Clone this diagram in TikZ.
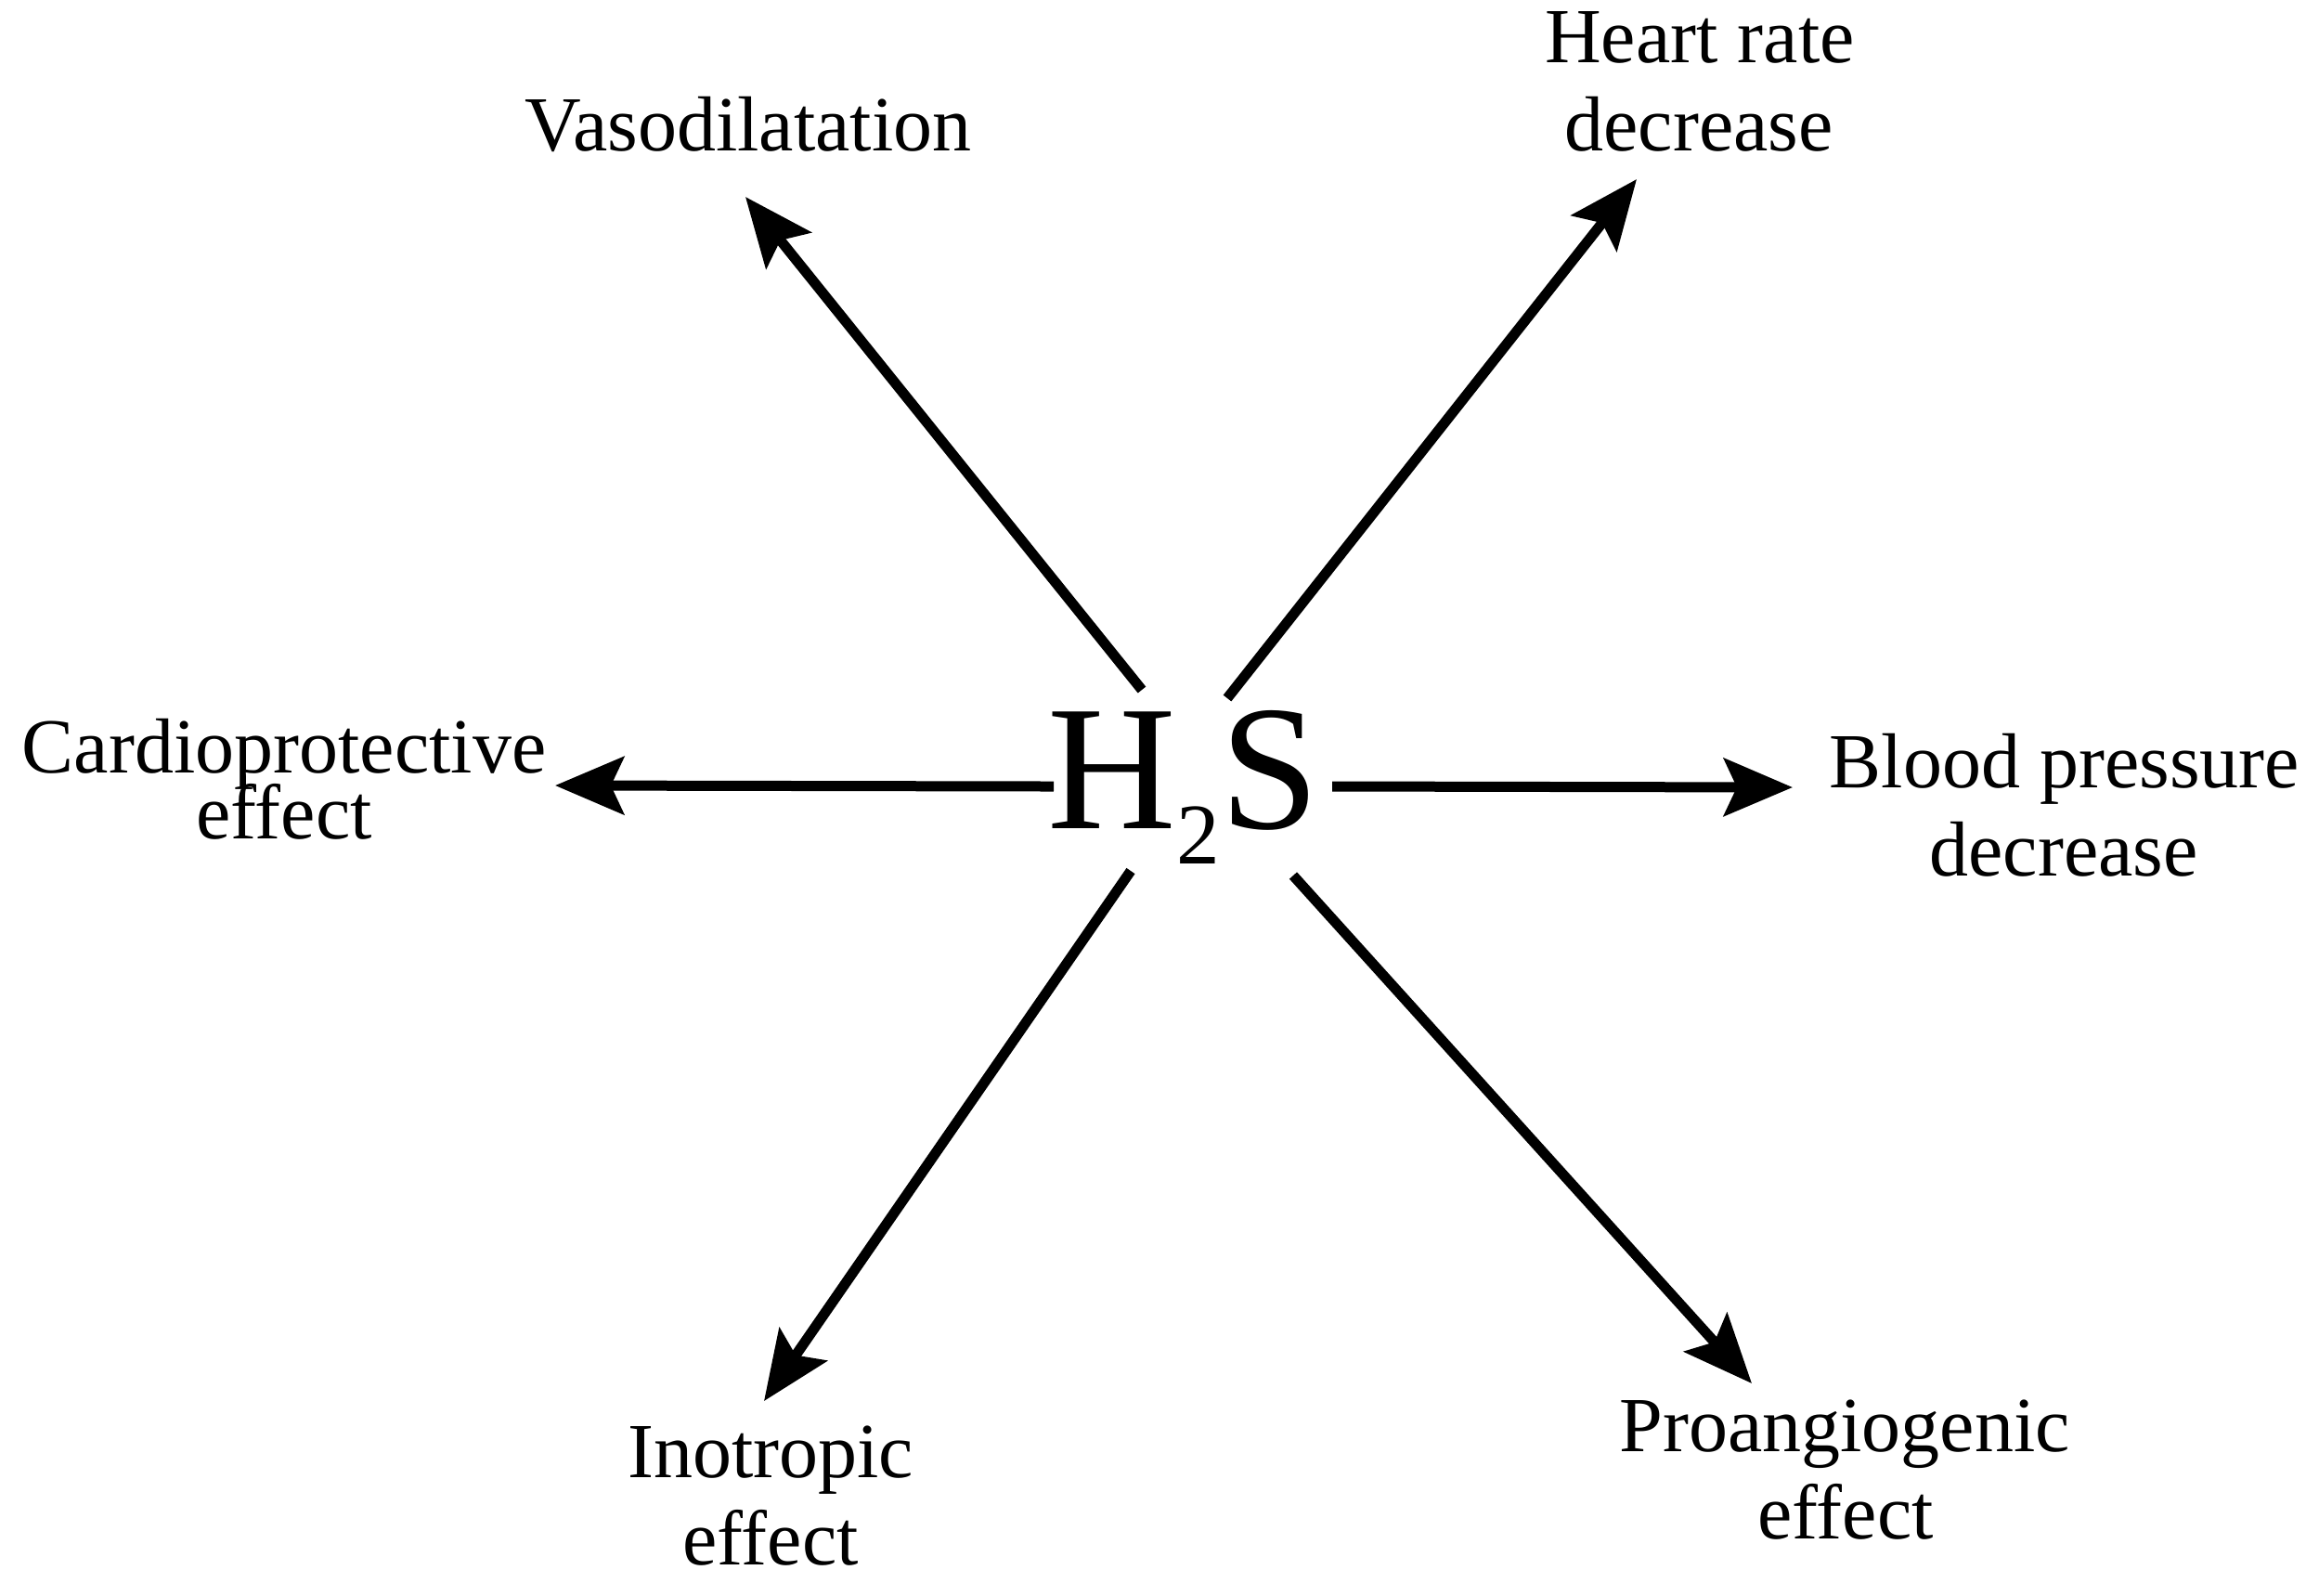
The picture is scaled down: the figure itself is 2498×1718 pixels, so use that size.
\documentclass[tikz,border=0pt]{standalone}
\usepackage{fontspec}
\setmainfont{Liberation Serif}
\usetikzlibrary{arrows.meta}
\tikzset{
  lbl/.style={anchor=base, inner sep=0pt, font=\fontsize{21pt}{25pt}\selectfont},
  conn/.style={line width=2.75pt, -{Stealth[length=18.5pt, width=15.5pt, inset=3.5pt]}},
}
\begin{document}
\begin{tikzpicture}[x=0.25pt, y=-0.25pt]
\useasboundingbox (0,0) rectangle (2498,1718);
% central node
\node[anchor=base west, inner sep=0pt, font=\fontsize{48pt}{50pt}\selectfont] (h2s) at (1128,892)
  {H\raisebox{-9.5pt}{\fontsize{23.3pt}{25pt}\selectfont 2}S};
% labels
\node[lbl] (vaso) at (806,162) {Vasodilatation};
\node[lbl] (hr1) at (1831,67) {Heart rate};
\node[lbl] (hr2) at (1830,162) {decrease};
\node[lbl] (cp1) at (306,832) {Cardioprotective};
\node[lbl] (cp2) at (306,903) {effect};
\node[lbl] (bp1) at (2224,848) {Blood pressure};
\node[lbl] (bp2) at (2223,943) {decrease};
\node[lbl] (in1) at (830,1591) {Inotropic};
\node[lbl] (in2) at (830,1685) {effect};
\node[lbl] (pa1) at (1987,1563) {Proangiogenic};
\node[lbl] (pa2) at (1988,1657) {effect};
% connector ends
\coordinate (tUL) at (1230,743); \coordinate (eUL) at (803,212);
\coordinate (tUR) at (1322,752); \coordinate (eUR) at (1763,193);
\coordinate (tL) at (1135,847);  \coordinate (eL) at (598,846);
\coordinate (tR) at (1435,847);  \coordinate (eR) at (1931,848);
\coordinate (tLL) at (1218,938); \coordinate (eLL) at (823,1509);
\coordinate (tLR) at (1393,943); \coordinate (eLR) at (1887,1490);
\draw[conn] (tUL) -- (eUL);
\draw[conn] (tUR) -- (eUR);
\draw[conn] (tL) -- (eL);
\draw[conn] (tR) -- (eR);
\draw[conn] (tLL) -- (eLL);
\draw[conn] (tLR) -- (eLR);
\end{tikzpicture}
\end{document}
